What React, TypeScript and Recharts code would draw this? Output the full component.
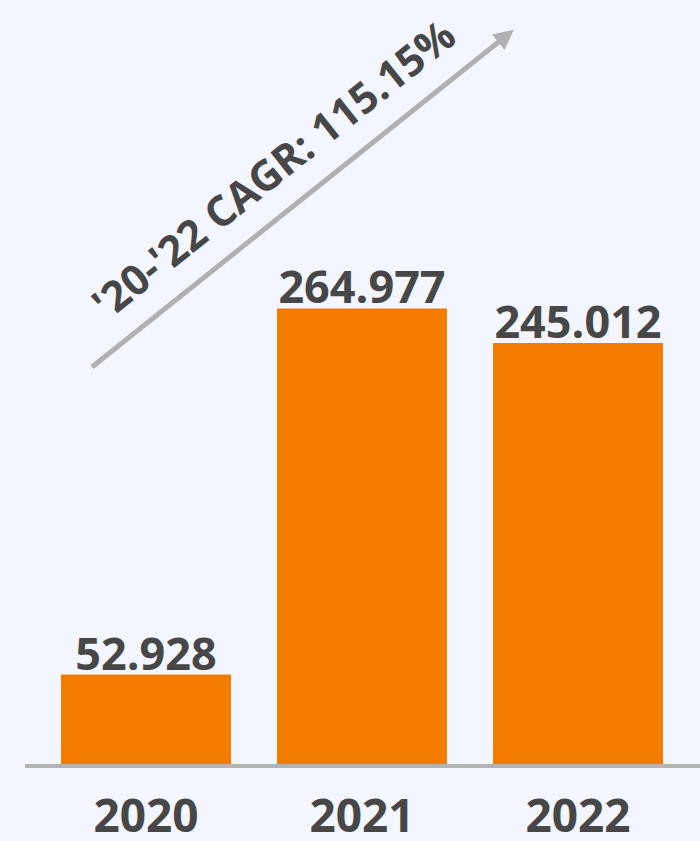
import React from 'react';
import { BarChart, Bar, XAxis, YAxis, LabelList } from 'recharts';

const years = ['2020', '2021', '2022'];
const revenue = [52.928, 264.977, 245.012];
const cagrLabel = "'20-'22 CAGR: 115.15%";

const data = years.map((year, i) => ({ year, revenue: revenue[i] }));

const FONT = "'Open Sans', 'DejaVu Sans', sans-serif";
const TEXT = '#474747';

const fmt = (v: number) => v.toFixed(3);

const App: React.FC = () => {
  return (
    <div style={{ position: 'absolute', top: 0, left: 0, width: 700, height: 841, background: '#f3f6fe' }}>
      <BarChart
        width={700}
        height={841}
        data={data}
        margin={{ top: 20, right: 0, bottom: 0, left: 25 }}
        barSize={170}
      >
        <XAxis
          dataKey="year"
          height={75}
          padding={{ left: 13, right: 14 }}
          axisLine={{ stroke: '#b3b3b3', strokeWidth: 4 }}
          tickLine={false}
          tickSize={0}
          tickMargin={33}
          tick={{ fill: TEXT, fontSize: 46, fontWeight: 700, fontFamily: FONT }}
        />
        <YAxis hide domain={[0, 432]} />
        <Bar dataKey="revenue" fill="#f37c00" isAnimationActive={false}>
          <LabelList
            dataKey="revenue"
            position="top"
            offset={5}
            formatter={(v: any) => fmt(Number(v))}
            style={{ fill: TEXT, fontSize: 45, fontWeight: 700, fontFamily: FONT }}
          />
        </Bar>
      </BarChart>
      <svg width={700} height={841} style={{ position: 'absolute', top: 0, left: 0, pointerEvents: 'none' }}>
        <defs>
          <marker id="head" markerWidth="4" markerHeight="4" refX="2" refY="2" orient="auto" markerUnits="strokeWidth">
            <path d="M0,0 L4,2 L0,4 Z" fill="#b0b0b0" />
          </marker>
        </defs>
        <line x1={92} y1={367} x2={506} y2={36} stroke="#b0b0b0" strokeWidth={5} markerEnd="url(#head)" />
        <text
          x={283}
          y={181}
          transform="rotate(-38.6 283 181)"
          textAnchor="middle"
          fill={TEXT}
          fontSize={42}
          fontWeight={700}
          fontFamily={FONT}
        >
          {cagrLabel}
        </text>
      </svg>
    </div>
  );
};

export default App;
